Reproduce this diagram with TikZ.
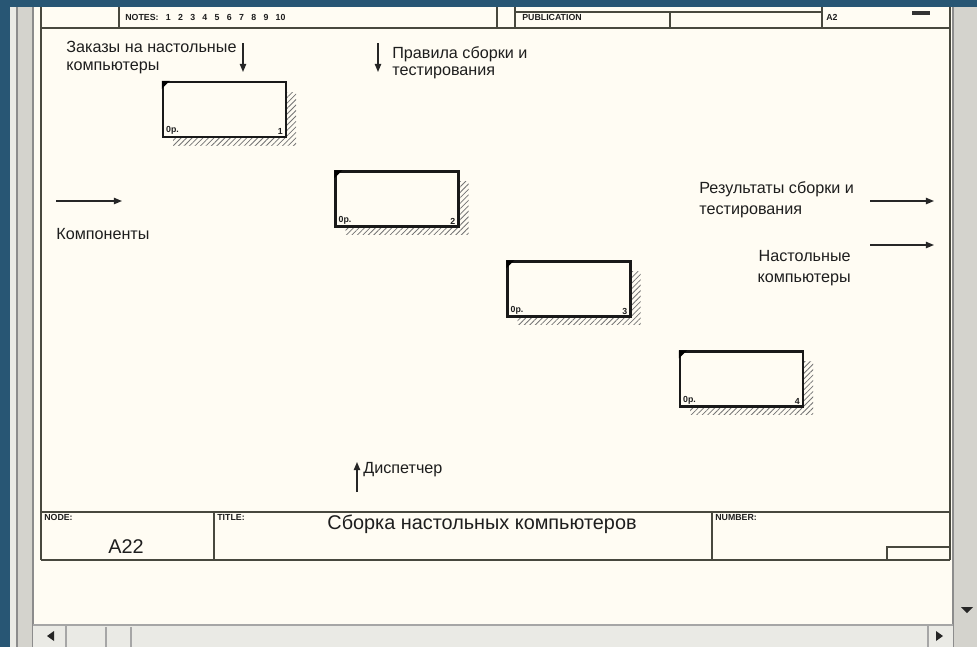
\documentclass[tikz,border=0pt]{standalone}
\usepackage{fontspec}
\setmainfont{Liberation Sans}
\usetikzlibrary{patterns.meta, arrows.meta}
\definecolor{slideblue}{RGB}{40,86,116}
\definecolor{paper}{RGB}{255,252,243}
\definecolor{panelgray}{RGB}{212,211,205}
\definecolor{barlight}{RGB}{234,234,229}
\definecolor{frameline}{RGB}{72,72,62}
\definecolor{ink}{RGB}{30,30,30}

\begin{document}
\begin{tikzpicture}[x=0.02cm, y=-0.02cm, >={Triangle[length=4.6pt, width=3.6pt]},
    frame/.style={draw=frameline, line width=0.8pt},
    actbox/.style={draw=black!90, line width=1.3pt, fill=paper, minimum width=2.46cm, minimum height=1.1cm, inner sep=0pt},
    hatch/.style={pattern={Lines[angle=45, distance=2.2pt, line width=0.45pt]}, pattern color=black!55},
    arrowline/.style={->, line width=0.8pt, black!85},
    lbl/.style={font=\fontsize{9.2}{10}\selectfont, text=ink, inner sep=0pt, align=left},
    tiny/.style={font=\fontsize{5}{5}\selectfont\bfseries, text=ink, inner sep=0pt},
    titletext/.style={font=\fontsize{11.3}{13}\selectfont, text=ink, inner sep=0pt}]
    % slide backdrop and window
    \useasboundingbox (0,0) rectangle (977,647);
    \fill[slideblue] (0,0) rectangle (977,647);
    \fill[paper] (33,7) rectangle (953,625);
    \fill[panelgray] (10,7) rectangle (33,647);
    \fill[barlight] (10,7) rectangle (17,647);
    \draw[black!45, line width=0.6pt] (17,7) -- (17,647) (33,7) -- (33,647);
    \fill[panelgray] (953,7) rectangle (977,647);
    \draw[black!45, line width=0.6pt] (953,7) -- (953,647);
    \fill[barlight] (33,625) rectangle (953,647);
    \draw[black!35, line width=0.6pt] (33,625) -- (953,625) (66,625) -- (66,647) (106,627) -- (106,647) (131,627) -- (131,647) (928,625) -- (928,647);
    \fill[black!85] (47,636) -- (54,631) -- (54,641) -- cycle;
    \fill[black!85] (943,636) -- (936,631) -- (936,641) -- cycle;
    \fill[black!85] (961,607) -- (973,607) -- (967,613) -- cycle;
    % header row
    \draw[frame] (41,7) -- (41,560) (950,7) -- (950,560) (41,28) -- (950,28);
    \draw[frame] (119,7) -- (119,28) (497,7) -- (497,28) (515,7) -- (515,28) (670,12) -- (670,28) (822,7) -- (822,28);
    \draw[frameline, line width=1.2pt] (515,12) -- (822,12);
    \node[tiny, anchor=west] (notes) at (125,17) {NOTES:\ \ \ 1\ \ \ 2\ \ \ 3\ \ \ 4\ \ \ 5\ \ \ 6\ \ \ 7\ \ \ 8\ \ \ 9\ \ \ 10};
    \node[tiny, anchor=west] (pub) at (522,17) {PUBLICATION};
    \node[tiny, anchor=west] (ctx) at (826,17) {A2};
    \fill[black!80] (912,11) rectangle (930,15);
    % activity boxes
    \foreach \n/\cx/\cy in {1/224.5/109.5, 2/397/199, 3/569/289, 4/741.5/379}{
        \fill[hatch] (\cx-51.5,\cy-17.5) rectangle (\cx+71.5,\cy+35.5);
        \node[actbox] (box\n) at (\cx,\cy) {};
        \fill[black] (box\n.north west) -- ++(8,0) -- ++(-8,8) -- cycle;
        \node[tiny, anchor=south west] (cost\n) at ([shift={(4,-3)}]box\n.south west) {0р.};
        \node[tiny, anchor=south east] (num\n) at ([shift={(-4,-3)}]box\n.south east) {\n};
    }
    % controls
    \coordinate (ordtop) at (243,43);
    \coordinate (ordend) at (243,72);
    \draw[arrowline] (ordtop) -- (ordend);
    \node[lbl, anchor=north west] (orders) at (66,41) {Заказы на настольные\\компьютеры};
    \coordinate (ruletop) at (378,43);
    \coordinate (ruleend) at (378,72);
    \draw[arrowline] (ruletop) -- (ruleend);
    \node[lbl, anchor=north west] (rules) at (392,46) {Правила сборки и\\тестирования};
    % input
    \coordinate (compstart) at (56,201);
    \coordinate (compend) at (122,201);
    \draw[arrowline] (compstart) -- (compend);
    \node[lbl, anchor=west] (parts) at (56,234) {Компоненты};
    % outputs
    \coordinate (resstart) at (870,201);
    \coordinate (resend) at (934,201);
    \draw[arrowline] (resstart) -- (resend);
    \node[lbl, anchor=north west, font=\fontsize{9.2}{12}\selectfont] (results) at (699,181) {Результаты сборки и\\тестирования};
    \coordinate (pcstart) at (870,245);
    \coordinate (pcend) at (934,245);
    \draw[arrowline] (pcstart) -- (pcend);
    \node[lbl, anchor=north east, align=right, font=\fontsize{9.2}{12}\selectfont] (desktops) at (851,250) {Настольные\\компьютеры};
    % mechanism
    \coordinate (dispstart) at (357,492);
    \coordinate (dispend) at (357,462);
    \draw[arrowline] (dispstart) -- (dispend);
    \node[lbl, anchor=west] (dispatcher) at (363,470) {Диспетчер};
    % title block
    \draw[frame] (41,512) -- (950,512) (41,560) -- (950,560) (214,512) -- (214,560) (712,512) -- (712,560);
    \draw[frame] (887,560) -- (887,547) -- (950,547);
    \node[tiny, anchor=north west] (nodelbl) at (44,514) {NODE:};
    \node[tiny, anchor=north west] (titlelbl) at (217,514) {TITLE:};
    \node[tiny, anchor=north west] (numlbl) at (715,514) {NUMBER:};
    \node[titletext] (nodeid) at (126,547) {A22};
    \node[titletext] (title) at (482,524) {Сборка настольных компьютеров};
\end{tikzpicture}
\end{document}
